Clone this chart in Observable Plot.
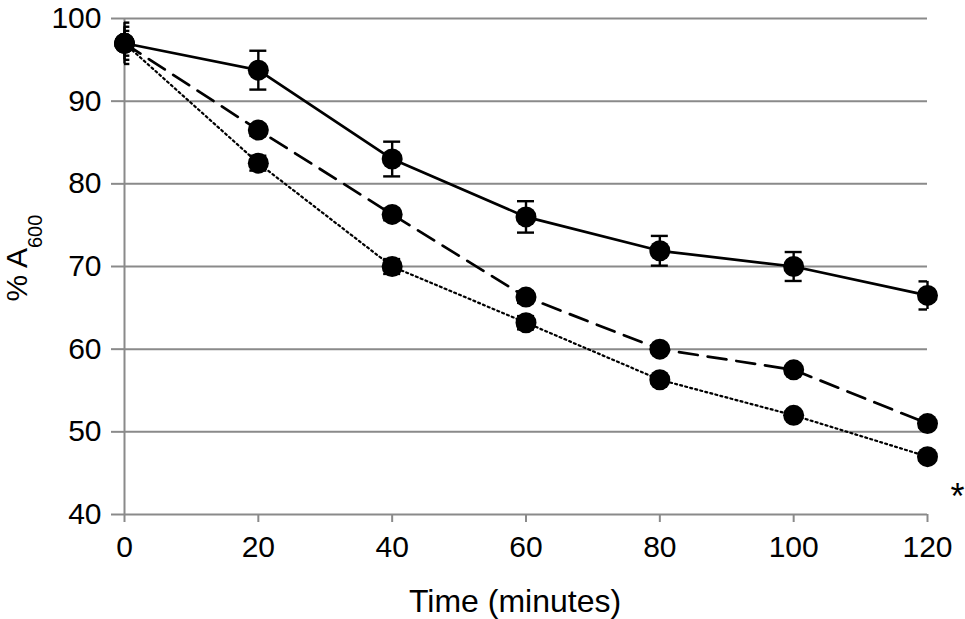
<!DOCTYPE html>
<html>
<head>
<meta charset="utf-8">
<script src="https://cdn.jsdelivr.net/npm/d3@7"></script>
<script src="https://cdn.jsdelivr.net/npm/@observablehq/plot@0.6"></script>
<style>
  html, body { margin: 0; padding: 0; background: #fff; overflow: hidden; }
  #chart { width: 965px; height: 619px; }
</style>
</head>
<body>
<div id="chart"></div>
<script>
const times = [0, 20, 40, 60, 80, 100, 120];
const solidMean = [97, 93.75, 83, 76, 71.9, 70, 66.5];
const solidErr = [2.5, 2.35, 2.1, 1.9, 1.8, 1.75, 1.7];
const dashedMean = [97, 86.5, 76.3, 66.3, 60, 57.5, 51];
const dashedErr = [2, 0.7, 0.7, 0.7, 0.5, 0.5, 0.5];
const dottedMean = [97, 82.5, 70, 63.2, 56.3, 52, 47];
const dottedErr = [1.5, 0.9, 0.9, 0.8, 0.5, 0.5, 0.5];
const xTicks = [0, 20, 40, 60, 80, 100, 120];
const yTicks = [40, 50, 60, 70, 80, 90, 100];
const note = [{time: 124.5, value: 42.1, text: "*"}];

const series = [
  {name: "solid", mean: solidMean, err: solidErr},
  {name: "dashed", mean: dashedMean, err: dashedErr},
  {name: "dotted", mean: dottedMean, err: dottedErr}
];
const rows = series.flatMap(s => times.map((t, i) => ({
  series: s.name, time: t, value: s.mean[i], lo: s.mean[i] - s.err[i], hi: s.mean[i] + s.err[i]
})));
const bySeries = name => rows.filter(d => d.series === name);

// cap half-width in x data units (≈8.5px at this scale)
const capHalf = 1.27;
const capX1 = d => d.time - (d.time === 0 ? 0.8 : capHalf);
const capX2 = d => d.time + (d.time === 0 ? 0.8 : capHalf);

const gray = "#8a8a8a";
const font = "'Liberation Sans', Arial, sans-serif";

const chart = Plot.plot({
  width: 965,
  height: 619,
  marginLeft: 124,
  marginRight: 38,
  marginTop: 18,
  marginBottom: 105,
  style: {fontFamily: font, background: "#fff", overflow: "visible"},
  x: {domain: [0, 120], ticks: xTicks, label: null},
  y: {domain: [40, 100], ticks: yTicks, label: null},
  marks: [
    Plot.gridY(yTicks.filter(v => v > 40), {stroke: gray, strokeOpacity: 1, strokeWidth: 2}),
    Plot.axisY(yTicks, {tickSize: 13, tickPadding: 10, stroke: gray, strokeWidth: 2, fontSize: 30, fill: "#000", dy: 0, label: null}),
    Plot.axisX(xTicks, {tickSize: 8, tickPadding: 13, stroke: gray, strokeWidth: 2, fontSize: 30, fill: "#000", label: null}),
    Plot.ruleY([40], {stroke: gray, strokeWidth: 2}),
    Plot.ruleX([0], {stroke: gray, strokeWidth: 2}),
    Plot.line(bySeries("solid"), {x: "time", y: "value", stroke: "#000", strokeWidth: 2.7}),
    Plot.line(bySeries("dashed"), {x: "time", y: "value", stroke: "#000", strokeWidth: 2.7, strokeDasharray: "19,10"}),
    Plot.line(bySeries("dotted"), {x: "time", y: "value", stroke: "#000", strokeWidth: 2.2, strokeDasharray: "2,3.2"}),
    Plot.ruleX(rows, {x: "time", y1: "lo", y2: "hi", stroke: "#000", strokeWidth: 2.4}),
    Plot.ruleY(rows, {y: "lo", x1: capX1, x2: capX2, stroke: "#000", strokeWidth: 2.4, clip: true}),
    Plot.ruleY(rows, {y: "hi", x1: capX1, x2: capX2, stroke: "#000", strokeWidth: 2.4, clip: true}),
    Plot.dot(rows, {x: "time", y: "value", r: 10.5, fill: "#000", stroke: "none"}),
    Plot.text(note, {x: "time", y: "value", text: "text", fontSize: 36, fill: "#000"})
  ]
});

document.getElementById("chart").appendChild(chart);

const svg = d3.select(chart);
function ancestorLabel(node) {
  let n = node.parentNode;
  while (n && n !== chart) {
    const a = n.getAttribute && n.getAttribute("aria-label");
    if (a) return a;
    n = n.parentNode;
  }
  return "";
}
svg.selectAll("text").each(function () {
  const t = d3.select(this);
  const lab = ancestorLabel(this);
  if (t.text() === "*") t.style("font-size", "36px");
  else if (lab.startsWith("y-axis")) t.style("font-size", "30px");
  else if (lab.startsWith("x-axis")) t.style("font-size", "30px");
});

// x-axis title
svg.append("text")
  .attr("x", 515).attr("y", 612)
  .attr("text-anchor", "middle")
  .attr("font-family", font)
  .style("font-size", "32px")
  .attr("fill", "#000")
  .text("Time (minutes)");
// y-axis title with subscript
const yt = svg.append("text")
  .attr("transform", "translate(27,258) rotate(-90)")
  .attr("text-anchor", "middle")
  .attr("font-family", font)
  .style("font-size", "30px")
  .attr("fill", "#000");
yt.append("tspan").text("% A");
yt.append("tspan").style("font-size", "20px").attr("dy", 15).text("600");
</script>
</body>
</html>
